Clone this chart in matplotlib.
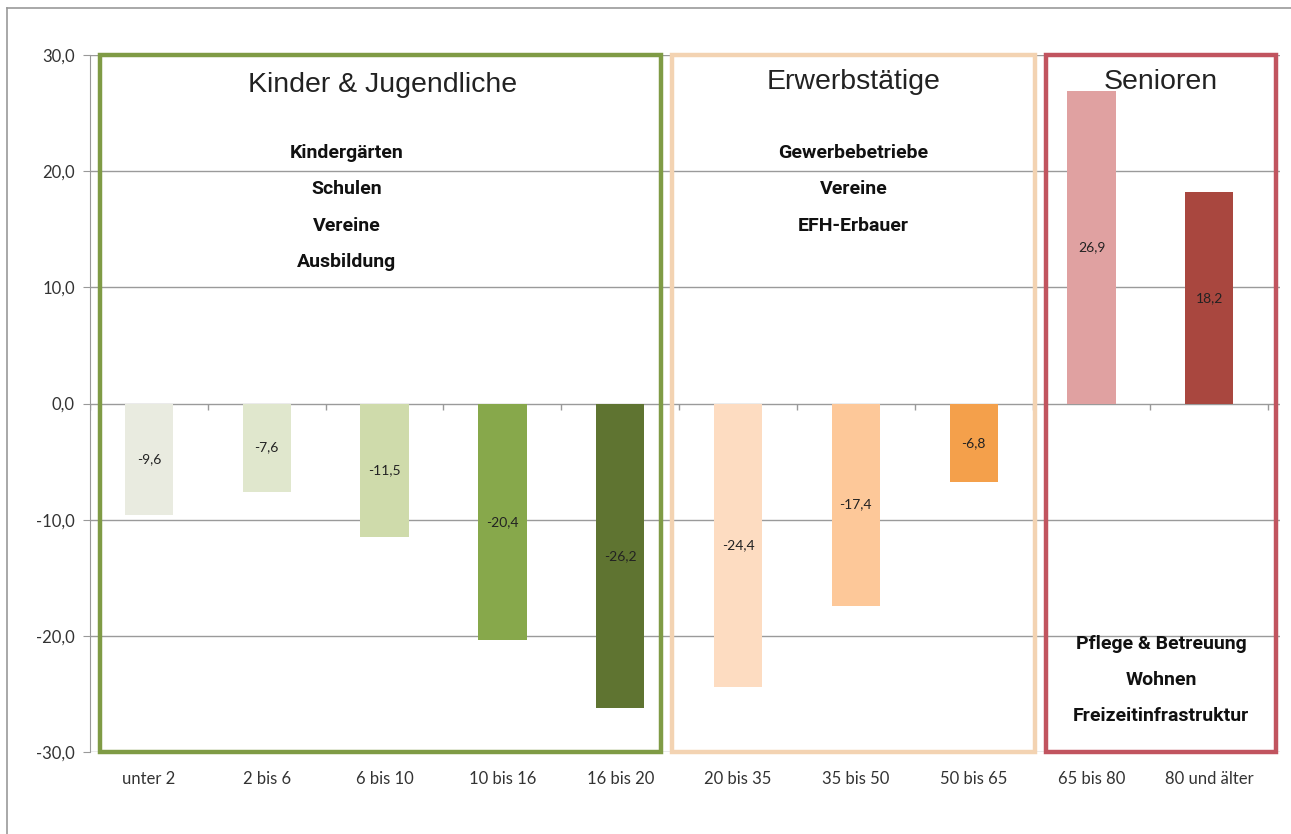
"""Bevölkerungsentwicklung nach Altersgruppen – Balkendiagramm mit Zielgruppen-Rahmen."""
import matplotlib
matplotlib.use("Agg")
import matplotlib.pyplot as plt
from matplotlib.patches import Rectangle
from matplotlib.lines import Line2D
import numpy as np

# Daten
kategorien = ["unter 2", "2 bis 6", "6 bis 10", "10 bis 16", "16 bis 20",
              "20 bis 35", "35 bis 50", "50 bis 65", "65 bis 80", "80 und älter"]
werte = [-9.6, -7.6, -11.5, -20.4, -26.2, -24.4, -17.4, -6.8, 26.9, 18.2]
farben = ["#e9ebe0", "#e0e7cd", "#cfdbab", "#87a84b", "#5f7431",
          "#fddcc1", "#fdc899", "#f4a04b", "#e0a1a1", "#a9473f"]
y_ticks = [-30, -20, -10, 0, 10, 20, 30]

gruppen = ["Kinder & Jugendliche", "Erwerbstätige", "Senioren"]
gruppen_farben = ["#7f9b45", "#f3d3b2", "#c1545f"]
gruppen_texte = [
    ["Kindergärten", "Schulen", "Vereine", "Ausbildung"],
    ["Gewerbebetriebe", "Vereine", "EFH-Erbauer"],
    ["Pflege & Betreuung", "Wohnen", "Freizeitinfrastruktur"],
]

TICK_FONT = ["Lato", "DejaVu Sans"]
NARROW_FONT = ["Roboto", "DejaVu Sans"]
TITLE_FONT = ["Liberation Sans", "DejaVu Sans"]


def komma(v):
    return f"{v:.1f}".replace(".", ",")


def main():
    fig = plt.figure(figsize=(12.91, 8.34), dpi=100)
    ax = fig.add_axes([90 / 1291, 82 / 834, 1190 / 1291, 697 / 834])

    x = np.arange(len(kategorien))
    balken = ax.bar(x, werte, width=0.41, color=farben, zorder=3)
    ax.bar_label(balken, labels=[komma(v) for v in werte], label_type="center",
                 fontsize=10, color="#222222", family=TICK_FONT)

    ax.set_xlim(-0.5, 9.6)
    ax.set_ylim(-30, 30)
    ax.set_yticks(y_ticks)
    ax.set_yticklabels([komma(v) for v in y_ticks], family=TICK_FONT,
                       fontsize=12, color="#333333")
    ax.set_xticks(x)
    ax.set_xticklabels(kategorien, family=TICK_FONT, fontsize=12, color="#333333")
    ax.tick_params(axis="x", length=0, pad=14)
    ax.tick_params(axis="y", length=5, color="#999999", pad=6)
    ax.grid(axis="y", color="#9a9a9a", linewidth=1, zorder=1)
    for side in ["top", "right", "bottom"]:
        ax.spines[side].set_visible(False)
    ax.spines["left"].set_color("#999999")

    # kleine Trennstriche an der Nulllinie
    ax.vlines(np.arange(len(kategorien) + 1) - 0.5, -0.6, 0, color="#999999",
              linewidth=1, zorder=2)

    # Rahmen der Zielgruppen
    rahmen = [(-0.416, 4.35), (4.44, 7.52), (7.61, 9.57)]
    for (x0, x1), farbe in zip(rahmen, gruppen_farben):
        ax.add_patch(Rectangle((x0, -30), x1 - x0, 60, fill=False,
                               edgecolor=farbe, linewidth=3.2, zorder=4,
                               clip_on=False))

    # Gruppentitel
    titel_pos = [(1.98, 27.4), (5.98, 27.7), (8.59, 27.7)]
    for name, (tx, ty) in zip(gruppen, titel_pos):
        ax.text(tx, ty, name, ha="center", va="center", fontsize=20.5,
                family=TITLE_FONT, color="#222222", zorder=5)

    # Stichworte
    text_pos = [(1.68, 21.55), (5.98, 21.55), (8.59, -20.7)]
    for zeilen, (tx, ty) in zip(gruppen_texte, text_pos):
        for i, zeile in enumerate(zeilen):
            ax.text(tx, ty - i * 3.12, zeile, ha="center", va="center",
                    fontsize=14, fontweight="bold", family=NARROW_FONT,
                    color="#111111", zorder=5)

    # äußerer Rahmen
    fig.add_artist(Line2D([7 / 1291, 1], [1 - 8 / 834, 1 - 8 / 834],
                          color="#999999", linewidth=1.2))
    fig.add_artist(Line2D([7 / 1291, 7 / 1291], [0, 1 - 8 / 834],
                          color="#999999", linewidth=1.2))

    fig.savefig("out.png", dpi=100)


if __name__ == "__main__":
    main()
